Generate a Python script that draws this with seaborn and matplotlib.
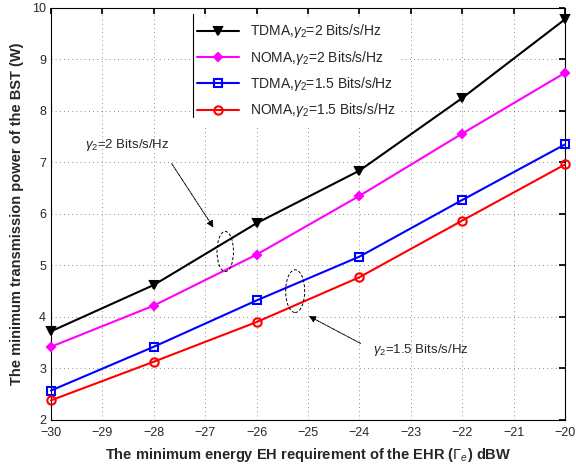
import matplotlib
matplotlib.use("Agg")
import matplotlib.pyplot as plt
from matplotlib.patches import Ellipse
import seaborn as sns
import pandas as pd

x_vals = [-30, -28, -26, -24, -22, -20]
tdma_2 = [3.72, 4.62, 5.82, 6.84, 8.25, 9.78]
noma_2 = [3.42, 4.22, 5.21, 6.35, 7.56, 8.74]
tdma_15 = [2.57, 3.42, 4.32, 5.17, 6.27, 7.35]
noma_15 = [2.38, 3.13, 3.90, 4.77, 5.87, 6.96]
labels = [r"TDMA,$\gamma_2$=2 Bits/s/Hz", r"NOMA,$\gamma_2$=2 Bits/s/Hz",
          r"TDMA,$\gamma_2$=1.5 Bits/s/Hz", r"NOMA,$\gamma_2$=1.5 Bits/s/Hz"]

sns.set_theme(style="white")
plt.rcParams['font.family'] = ['Liberation Sans', 'DejaVu Sans']
plt.rcParams['mathtext.fontset'] = 'custom'
plt.rcParams['mathtext.rm'] = 'Liberation Sans'
plt.rcParams['mathtext.it'] = 'Liberation Sans:italic'

fig = plt.figure(figsize=(5.76, 4.65), dpi=100)
ax = fig.add_axes([0.0885, 0.097, 0.8925, 0.886])

series = [tdma_2, noma_2, tdma_15, noma_15]
colors = ["black", "magenta", "blue", "red"]
markers = ["v", "D", "s", "o"]
fills = ["black", "magenta", "none", "none"]
msizes = [6, 4.5, 6, 6]
for vals, lab, c, m, f, ms in zip(series, labels, colors, markers, fills, msizes):
    df = pd.DataFrame({"x": x_vals, "y": vals})
    sns.lineplot(data=df, x="x", y="y", ax=ax, color=c, marker=m, markersize=ms,
                 markerfacecolor=f, markeredgecolor=c, markeredgewidth=1.5,
                 linewidth=1.5, label=lab, clip_on=False, zorder=4)

ax.set_xlim(-30, -20)
ax.set_ylim(2, 10)
ax.set_xticks(range(-30, -19))
ax.set_yticks(range(2, 11))
ax.set_xticklabels([f"\u2212{abs(v)}" for v in range(-30, -19)])
ax.tick_params(direction="in", top=True, right=True, labelsize=9, length=4, color="black")
ax.tick_params(axis="x", pad=5)
ax.grid(True, linestyle=(0, (1, 4)), color="black", linewidth=0.6, alpha=0.6)
for s in ax.spines.values():
    s.set_color("black")
    s.set_linewidth(0.8)

ax.set_xlabel(r"The minimum energy EH requirement of the EHR ($\Gamma_e$) dBW",
              fontsize=10.5, fontweight="bold", labelpad=5)
ax.set_ylabel("The minimum transmission power of the BST (W)",
              fontsize=10.5, fontweight="bold", labelpad=6)

leg = ax.legend(loc="upper left", bbox_to_anchor=(0.268, 0.985), frameon=True,
                fontsize=10, handlelength=3, borderaxespad=0.2, labelspacing=0.6,
                fancybox=False)
leg.get_frame().set_edgecolor("none")
leg.get_frame().set_facecolor("white")
leg.get_frame().set_alpha(1)
ax.plot([0.276, 0.276], [0.735, 0.985], transform=ax.transAxes, color="black", lw=0.8, zorder=10)

# annotations
ax.add_patch(Ellipse((-26.61, 5.27), 0.32, 0.78, fill=False, ls=(0, (3, 2)), lw=0.7, color="black", zorder=5))
ax.add_patch(Ellipse((-25.25, 4.50), 0.37, 0.83, fill=False, ls=(0, (3, 2)), lw=0.7, color="black", zorder=5))
ax.annotate("", xy=(-26.81, 5.69), xytext=(-27.68, 7.02),
            arrowprops=dict(arrowstyle="-|>", ls=(0, (3, 1, 1, 1)), lw=0.7, color="black", mutation_scale=10))
ax.text(-29.34, 7.34, r"$\gamma_2$=2 Bits/s/Hz", fontsize=9.5, va="center", ha="left")
ax.annotate("", xy=(-25.03, 4.04), xytext=(-23.93, 3.46),
            arrowprops=dict(arrowstyle="-|>", ls=(0, (3, 1, 1, 1)), lw=0.7, color="black", mutation_scale=10))
ax.text(-23.74, 3.36, r"$\gamma_2$=1.5 Bits/s/Hz", fontsize=9.5, va="center", ha="left")

fig.savefig("out.png", dpi=100)
